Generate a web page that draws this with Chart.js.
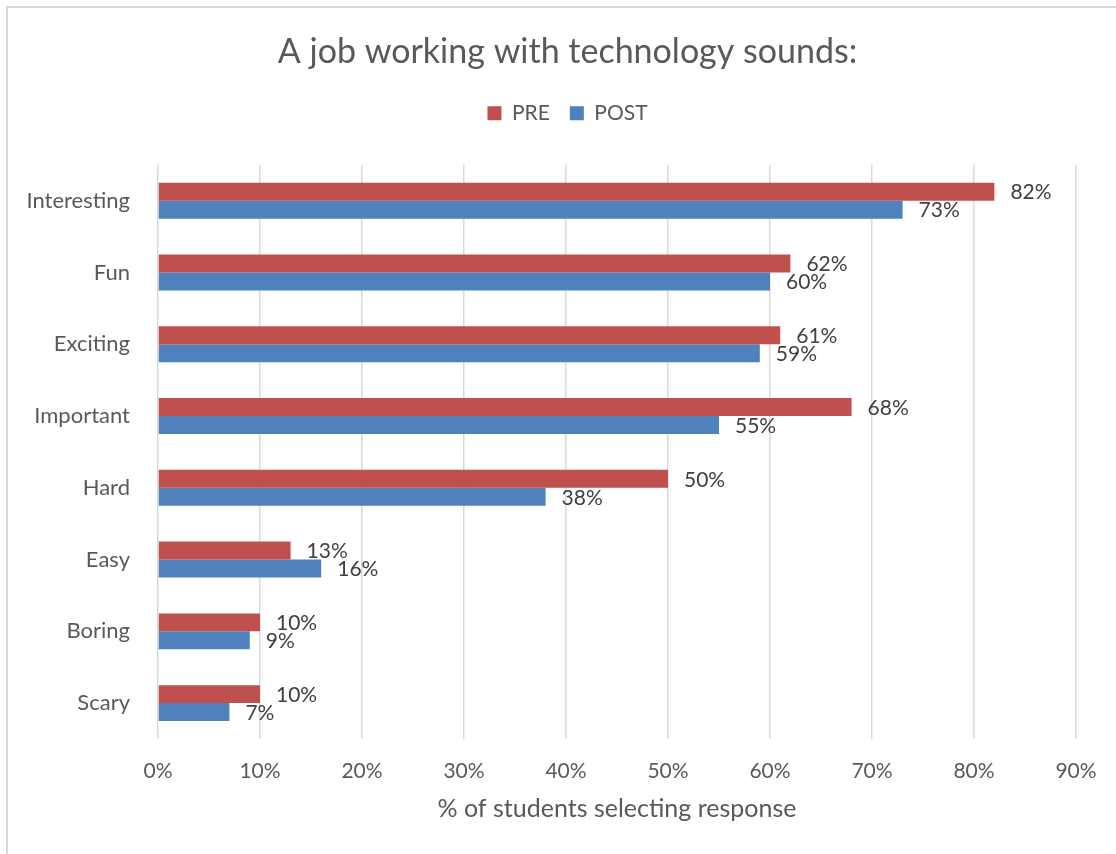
<!DOCTYPE html>
<html>
<head>
<meta charset="utf-8">
<script src="https://cdn.jsdelivr.net/npm/chart.js@4/dist/chart.umd.min.js"></script>
<style>
    html, body { margin: 0; padding: 0; background: #fff; overflow: hidden; }
    #wrap { position: relative; width: 1116px; height: 854px; overflow: hidden; }
    #frame {
        position: absolute; left: 6px; top: 6px; width: 1200px; height: 900px;
        border-left: 2px solid #d9d9d9; border-top: 2px solid #d9d9d9;
    }
    canvas { position: absolute; left: 0; top: 0; }
</style>
</head>
<body>
<div id="wrap">
    <div id="frame"></div>
    <canvas id="chart" width="1135" height="854"></canvas>
</div>
<script>
const categories = ["Interesting", "Fun", "Exciting", "Important", "Hard", "Easy", "Boring", "Scary"];
const preValues = [82, 62, 61, 68, 50, 13, 10, 10];
const postValues = [73, 60, 59, 55, 38, 16, 9, 7];
const xTicks = [0, 10, 20, 30, 40, 50, 60, 70, 80, 90];

const FONT = "Lato, 'Open Sans', sans-serif";

// writes "NN%" just past the end of every bar
const valueLabels = {
    id: "valueLabels",
    afterDatasetsDraw(chart) {
        const ctx = chart.ctx;
        ctx.save();
        ctx.font = "21px " + FONT;
        ctx.fillStyle = "#404040";
        ctx.textAlign = "left";
        ctx.textBaseline = "middle";
        chart.data.datasets.forEach((ds, i) => {
            chart.getDatasetMeta(i).data.forEach((bar, j) => {
                ctx.fillText(ds.data[j] + "%", bar.x + 16, bar.y + 1);
            });
        });
        ctx.restore();
    }
};

// empty axes that only reserve space around the plot
const spacer = (axis, position, size) => ({
    axis: axis,
    type: "linear",
    position: position,
    display: true,
    grid: { display: false },
    border: { display: false },
    ticks: { display: false },
    afterFit: (s) => {
        if (axis === "x") s.height = size; else s.width = size;
    }
});

new Chart(document.getElementById("chart"), {
    type: "bar",
    data: {
        labels: categories,
        datasets: [
            { label: "PRE", data: preValues, backgroundColor: "#C0504D", borderWidth: 0, xAxisID: "x", yAxisID: "y" },
            { label: "POST", data: postValues, backgroundColor: "#4F81BD", borderWidth: 0, xAxisID: "x", yAxisID: "y" }
        ]
    },
    options: {
        indexAxis: "y",
        responsive: false,
        animation: false,
        layout: { padding: { top: 0, left: 0, right: 0, bottom: 30 } },
        categoryPercentage: 0.5,
        barPercentage: 1.0,
        plugins: {
            title: {
                display: true,
                text: "A job working with technology sounds:",
                color: "#595959",
                font: { family: FONT, size: 34, weight: "normal" },
                padding: { top: 32, bottom: 10 }
            },
            legend: {
                display: true,
                position: "top",
                labels: {
                    color: "#595959",
                    font: { family: FONT, size: 21 },
                    boxWidth: 14,
                    boxHeight: 14,
                    padding: 20
                }
            },
            tooltip: { enabled: false }
        },
        scales: {
            y: {
                grid: { display: false },
                border: { display: false },
                ticks: {
                    color: "#595959",
                    font: { family: FONT, size: 22 },
                    padding: 20
                },
                afterFit: (s) => { s.width = 158; }
            },
            x: {
                min: 0,
                max: 90,
                afterBuildTicks: (s) => { s.ticks = xTicks.map((v) => ({ value: v })); },
                grid: { color: "#d9d9d9", lineWidth: 1.5, drawTicks: false },
                border: { display: false },
                ticks: {
                    color: "#595959",
                    font: { family: FONT, size: 21 },
                    padding: 20,
                    callback: (v) => v + "%"
                },
                title: {
                    display: true,
                    text: "% of students selecting response",
                    color: "#595959",
                    font: { family: FONT, size: 25 },
                    padding: { top: 0, bottom: 0 }
                },
                afterFit: (s) => { s.height = 85; }
            },
            xTop: spacer("x", "top", 31),
            yRight: spacer("y", "right", 59)
        }
    },
    plugins: [valueLabels]
});
</script>
</body>
</html>
